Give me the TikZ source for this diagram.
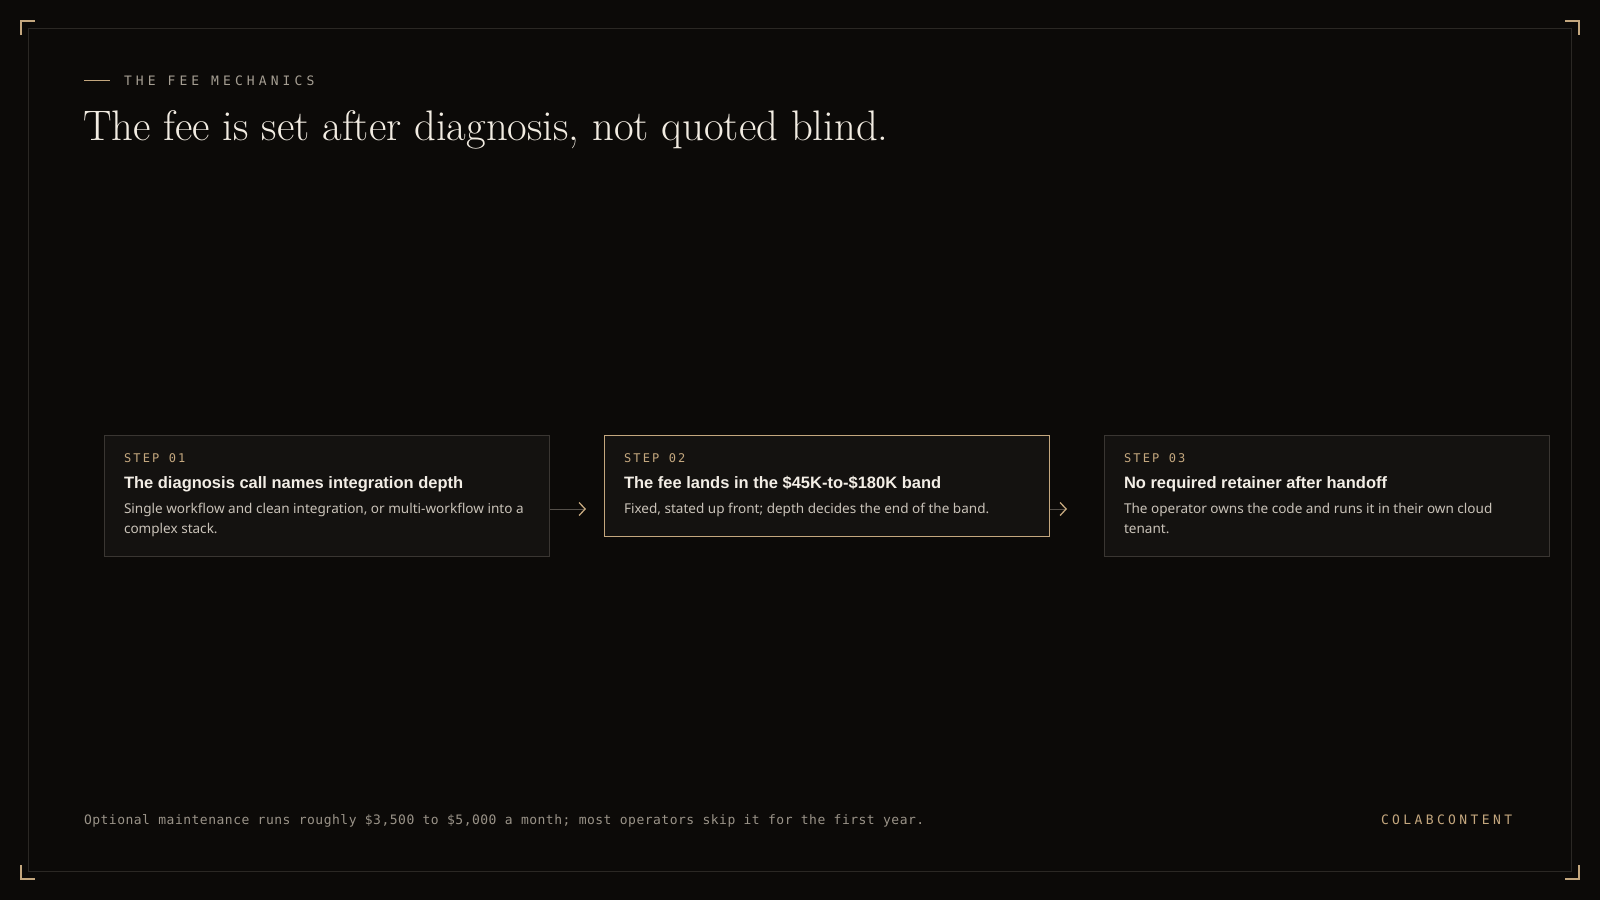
\documentclass[tikz,border=0pt]{standalone}
\usepackage{fontspec}
\usetikzlibrary{arrows.meta,calc}
\newfontfamily\sansf{Liberation Sans}
\newfontfamily\bodyf{Noto Sans}
\newfontfamily\monowide[LetterSpace=31.5]{DejaVu Sans Mono}
\newfontfamily\monobrand[LetterSpace=26]{DejaVu Sans Mono}
\newfontfamily\monostep[LetterSpace=18]{DejaVu Sans Mono}
\newfontfamily\monofoot[LetterSpace=3.8]{DejaVu Sans Mono}
\definecolor{bgc}{HTML}{0C0A08}
\definecolor{framec}{HTML}{2B2824}
\definecolor{tanc}{HTML}{C4A77E}
\definecolor{eyec}{HTML}{A59E92}
\definecolor{titlec}{HTML}{F2ECE2}
\definecolor{boxfill}{HTML}{141210}
\definecolor{boxline}{HTML}{3A3632}
\definecolor{headc}{HTML}{F3EEE6}
\definecolor{bodyc}{HTML}{C9C2B8}
\definecolor{arrowc}{HTML}{55504A}
\definecolor{footc}{HTML}{9A9388}
\begin{document}
\begin{tikzpicture}[x=1pt,y=-1pt,
  txt/.style={anchor=base west, inner sep=0pt, outer sep=0pt},
  stepbox/.style={draw=boxline, fill=boxfill, line width=1pt, anchor=north west, minimum width=445pt, inner sep=0pt},
  hotbox/.style={stepbox, draw=tanc},
  steplabel/.style={txt, text=tanc, font=\monostep\fontsize{12}{14}\selectfont},
  headline/.style={txt, text=headc, font=\sansf\bfseries\fontsize{16.5}{20}\selectfont},
  bodyline/.style={txt, text=bodyc, font=\bodyf\fontsize{13.55}{20}\selectfont},
  conn/.style={draw=arrowc, line width=1pt, -{Straight Barb[color=tanc, length=6pt, width=13pt, line width=1.3pt]}},
  cornermark/.style={draw=tanc, line width=1.1pt}
]
\fill[bgc] (0,0) rectangle (1600,900);
\useasboundingbox (0,0) rectangle (1600,900);
\draw[framec, line width=1pt] (28.5,28.5) rectangle (1571.5,871.5);
\draw[cornermark] (21,35) -- (21,21) -- (35,21);
\draw[cornermark] (1565,21) -- (1579,21) -- (1579,35);
\draw[cornermark] (21,865) -- (21,879) -- (35,879);
\draw[cornermark] (1565,879) -- (1579,879) -- (1579,865);

% eyebrow and title
\draw[tanc, line width=1pt] (84,80) -- (110,80);
\node[txt, text=eyec, font=\monowide\fontsize{13}{15}\selectfont] (eyebrow) at (124,85) {THE FEE MECHANICS};
\node[txt, text=titlec, font=\fontsize{42.7}{48}\selectfont] (title) at (83,140) {The fee is set after diagnosis, not quoted blind.};

% boxes
\node[stepbox, minimum height=121pt] (b1) at (104,434.5) {};
\node[hotbox, minimum height=101pt] (b2) at (604,434.5) {};
\node[stepbox, minimum height=121pt] (b3) at (1104,434.5) {};

\node[steplabel] (s1) at ($(b1.north west)+(20,28)$) {STEP 01};
\node[headline] (h1) at ($(b1.north west)+(20,54)$) {The diagnosis call names integration depth};
\node[bodyline] (t1a) at ($(b1.north west)+(20,79)$) {Single workflow and clean integration, or multi-workflow into a};
\node[bodyline] (t1b) at ($(b1.north west)+(20,99)$) {complex stack.};

\node[steplabel] (s2) at ($(b2.north west)+(20,28)$) {STEP 02};
\node[headline] (h2) at ($(b2.north west)+(20,54)$) {The fee lands in the \$45K-to-\$180K band};
\node[bodyline] (t2a) at ($(b2.north west)+(20,79)$) {Fixed, stated up front; depth decides the end of the band.};

\node[steplabel] (s3) at ($(b3.north west)+(20,28)$) {STEP 03};
\node[headline] (h3) at ($(b3.north west)+(20,54)$) {No required retainer after handoff};
\node[bodyline] (t3a) at ($(b3.north west)+(20,79)$) {The operator owns the code and runs it in their own cloud};
\node[bodyline] (t3b) at ($(b3.north west)+(20,99)$) {tenant.};

% connectors
\coordinate (e1) at (586,509);
\coordinate (e2) at (1067,509);
\draw[conn] (b1.east |- e1) -- (e1);
\draw[conn] (b2.east |- e2) -- (e2);

% footer
\node[txt, text=footc, font=\monofoot\fontsize{13}{15}\selectfont] (foot) at (84,824) {Optional maintenance runs roughly \$3,500 to \$5,000 a month; most operators skip it for the first year.};
\node[txt, text=tanc, font=\monobrand\fontsize{13}{15}\selectfont] (brand) at (1381,824) {COLABCONTENT};
\end{tikzpicture}
\end{document}
